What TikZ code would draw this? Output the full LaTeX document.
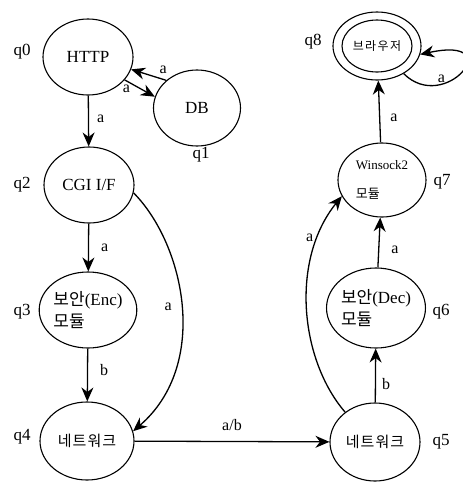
\documentclass[tikz,border=0pt]{standalone}
\usepackage{fontspec}
\setmainfont{Liberation Serif}
\newfontfamily\kr{Noto Sans CJK KR}
\usetikzlibrary{shapes.geometric,arrows.meta,positioning}
\begin{document}
\begin{tikzpicture}[x=1pt,y=-1pt,
  state/.style={ellipse,draw,line width=1.1pt,inner sep=0pt,
    minimum width=90pt,minimum height=76pt,font=\fontsize{17}{20}\selectfont},
  tag/.style={font=\fontsize{17}{20}\selectfont,inner sep=0pt},
  lbl/.style={font=\fontsize{16}{18}\selectfont,inner sep=0pt},
  edge/.style={line width=1.3pt,-{Stealth[length=14pt,width=12pt]}}]
\useasboundingbox (0,0) rectangle (463,483);

% states
\node[state] (q0) at (88,57) {HTTP};
\node[state,minimum width=87pt] (q1) at (197,108) {DB};
\node[state] (q2) at (89,185) {CGI I/F};
\node[state,align=left] (q3) at (88,310) {{\kr 보안}(Enc)\\[2pt]{\kr 모듈}};
\node[state,minimum width=94pt,minimum height=78pt] (q4) at (87,441)
  {\kr\fontsize{15}{18}\selectfont\addfontfeature{LetterSpace=7} 네트워크};
\node[state,minimum height=78pt] (q5) at (375,442)
  {\kr\fontsize{15}{18}\selectfont\addfontfeature{LetterSpace=7} 네트워크};
\node[state,minimum width=88pt,minimum height=80pt,align=left] (q6) at (376,308) {{\kr 보안}(Dec)\\[2pt]{\kr 모듈}};
\node[state,minimum width=88pt,minimum height=74pt,align=left] (q7) at (382,180)
  {\fontsize{13}{15}\selectfont Winsock2\\[9pt]{\kr\fontsize{13}{15}\selectfont 모듈}};
\node[state,minimum width=88pt,minimum height=68pt] (q8) at (377,46)
  {\kr\fontsize{12}{14}\selectfont\addfontfeature{LetterSpace=12} 브라우저};
\draw[line width=1.1pt] (q8.center) ellipse (35pt and 26pt);

% state names
\node[tag] (n0) at (22,52) {q0};
\node[tag] (n1) at (201,155) {q1};
\node[tag] (n2) at (22,185) {q2};
\node[tag] (n3) at (22,312) {q3};
\node[tag] (n4) at (22,437) {q4};
\node[tag] (n5) at (441,442) {q5};
\node[tag] (n6) at (441,312) {q6};
\node[tag] (n7) at (442,182) {q7};
\node[tag] (n8) at (313,42) {q8};

% transitions
\draw[edge] (q0) -- node[lbl,pos=0.45,right=8pt] {a} (q2);
\draw[edge] (q0.-32) -- node[lbl,pos=0.2,below left=1pt and 0pt] {a} (q1.165);
\draw[edge] (q1.138) -- node[lbl,pos=0.15,above right=4pt and -2pt] {a} (q0.-16);
\draw[edge] (q2) -- node[lbl,midway,right=12pt] {a} (q3);
\draw[edge] (q3) -- node[lbl,pos=0.4,right=12pt] {b} (q4);
\draw[edge] (q2.-10) .. controls (185,245) and (210,365) .. node[lbl,pos=0.5,left=9pt] {a} (q4.12);
\draw[edge] (q4) -- node[lbl,midway,above=10pt] {a/b} (q5);
\draw[edge] (q5.135) .. controls (300,360) and (290,260) .. node[lbl,pos=0.8,left=4pt] {a} (q7.-158);
\draw[edge] (q5) -- node[lbl,pos=0.35,right=6pt] {b} (q6);
\draw[edge] (q6) -- node[lbl,pos=0.35,right=12pt] {a} (q7);
\draw[edge] (q7) -- node[lbl,pos=0.4,right=10pt] {a} (q8);
\draw[edge] (q8.-46) .. controls (445,115) and (510,35) .. node[lbl,pos=0.45,left=12pt,yshift=-3pt] {a} (q8.-11);
\end{tikzpicture}
\end{document}
